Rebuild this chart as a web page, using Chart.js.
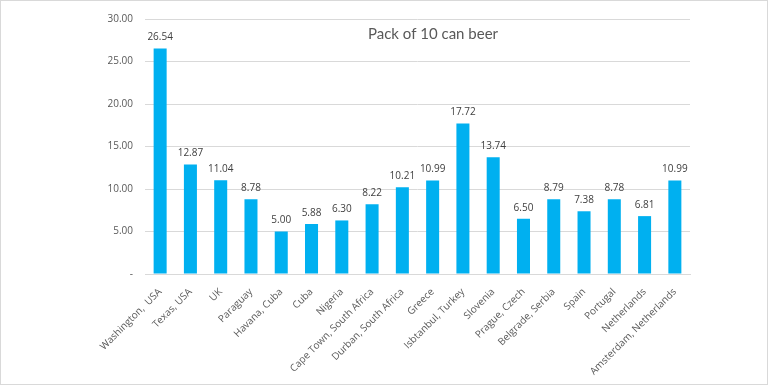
<!DOCTYPE html>
<html lang="en">
<head>
    <meta charset="UTF-8">
    <title>Pack of 10 can beer</title>
    <style>
        body {
            margin: 0;
            padding: 0;
            background: #ffffff;
        }

        .frame {
            width: 768px;
            height: 385px;
            box-sizing: border-box;
            border: 1px solid #d9d9d9;
            background: #ffffff;
        }

        .frame canvas {
            display: block;
        }
    </style>
</head>
<body>

<div class="frame">
    <canvas id="beerChart" width="766" height="383"></canvas>
</div>

<script src="https://cdn.jsdelivr.net/npm/chart.js"></script>
<script>
    const cities = ['Washington,  USA', 'Texas, USA', 'UK', 'Paraguay', 'Havana, Cuba', 'Cuba', 'Nigeria',
        'Cape Town, South Africa', 'Durban, South Africa', 'Greece', 'Isbtanbul, Turkey', 'Slovenia',
        'Prague, Czech', 'Belgrade, Serbia', 'Spain', 'Portugal', 'Netherlands', 'Amsterdam, Netherlands'];
    const prices = [26.54, 12.87, 11.04, 8.78, 5.00, 5.88, 6.30, 8.22, 10.21, 10.99, 17.72, 13.74,
        6.50, 8.79, 7.38, 8.78, 6.81, 10.99];
    const yTicks = [0, 5, 10, 15, 20, 25, 30];
    const chartTitle = 'Pack of 10 can beer';

    // values over the bars + the title sitting inside the plot
    const labelsPlugin = {
        id: 'barLabels',
        afterDatasetsDraw(chart) {
            const ctx = chart.ctx;
            const meta = chart.getDatasetMeta(0);
            ctx.save();
            ctx.font = '10px "Open Sans", sans-serif';
            ctx.fillStyle = '#404040';
            ctx.textAlign = 'center';
            ctx.textBaseline = 'bottom';
            meta.data.forEach((bar, i) => {
                ctx.fillText(prices[i].toFixed(2), bar.x, bar.y - 6);
            });

            ctx.font = '15px Lato, sans-serif';
            ctx.fillStyle = '#595959';
            ctx.textBaseline = 'alphabetic';
            ctx.fillText(chartTitle, 432, 38);
            ctx.restore();
        }
    };

    const ctx = document.getElementById('beerChart').getContext('2d');
    const beerChart = new Chart(ctx, {
        type: 'bar',
        data: {
            labels: cities,
            datasets: [{
                data: prices,
                backgroundColor: '#00B0F0',
                categoryPercentage: 1,
                barPercentage: 0.43
            }]
        },
        options: {
            responsive: false,
            animation: false,
            layout: {
                padding: { top: 2, right: 77, bottom: 0, left: 0 }
            },
            plugins: {
                legend: { display: false },
                title: { display: false },
                tooltip: { enabled: false }
            },
            scales: {
                x: {
                    grid: { display: false },
                    border: { display: true, color: '#d9d9d9', width: 1 },
                    ticks: {
                        minRotation: 45,
                        maxRotation: 45,
                        autoSkip: false,
                        padding: 4,
                        color: '#595959',
                        font: { family: '"Open Sans", sans-serif', size: 10 }
                    },
                    afterFit(scale) {
                        scale.height = 110;
                    }
                },
                y: {
                    min: 0,
                    max: 30,
                    afterBuildTicks(scale) {
                        scale.ticks = yTicks.map(v => ({ value: v }));
                    },
                    grid: { color: '#d9d9d9', drawTicks: false },
                    border: { display: false },
                    ticks: {
                        padding: 12,
                        color: '#595959',
                        font: { family: '"Open Sans", sans-serif', size: 10 },
                        callback: v => v === 0 ? '-' : v.toFixed(2)
                    },
                    afterFit(scale) {
                        scale.width = 144;
                    }
                }
            }
        },
        plugins: [labelsPlugin]
    });
</script>

</body>
</html>
